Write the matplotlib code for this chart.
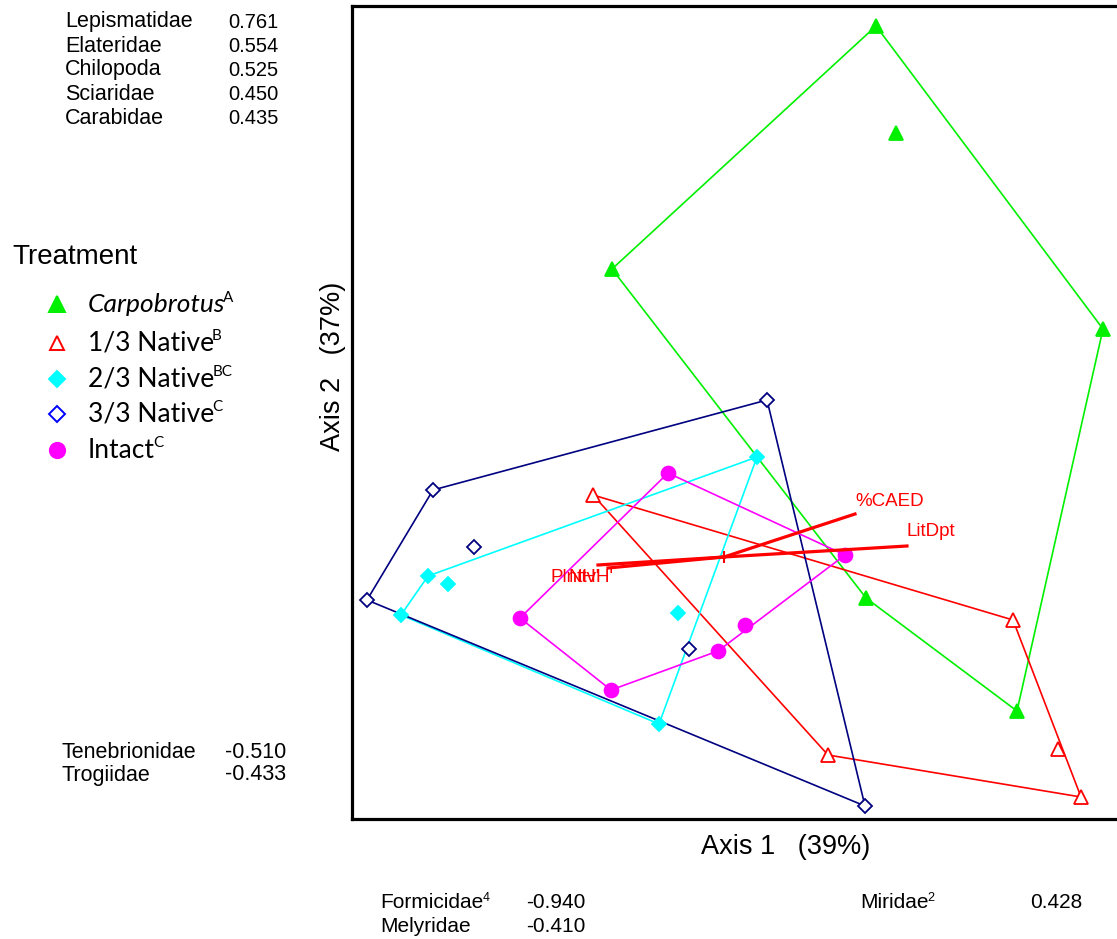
import matplotlib
matplotlib.use("Agg")
import matplotlib.pyplot as plt
import numpy as np

# NMS scores per treatment (axis 1, axis 2)
carpo_x = [0.624, 0.704, -0.432, 1.532, 0.584, 1.188]
carpo_y = [1.896, 1.468, 0.924, 0.684, -0.392, -0.844]
nat13_x = [-0.508, 1.172, 1.352, 1.444, 0.432]
nat13_y = [0.020, -0.480, -0.996, -1.188, -1.020]
nat23_x = [0.148, -1.168, -1.088, -1.276, -0.168, -0.244]
nat23_y = [0.172, -0.304, -0.336, -0.460, -0.452, -0.896]
nat33_x = [0.188, -1.148, -0.984, -1.412, -0.124, 0.580]
nat33_y = [0.400, 0.040, -0.188, -0.400, -0.596, -1.224]
intact_x = [-0.208, 0.500, 0.100, -0.008, -0.436, -0.800]
intact_y = [0.108, -0.220, -0.500, -0.604, -0.760, -0.472]

# environmental vectors (joint plot)
vec_origin = (0.016, -0.228)
vec_names = ["%CAED", "LitDpt", "PlntH'", "NtvH'"]
vec_x = [0.540, 0.748, -0.488, -0.448]
vec_y = [-0.056, -0.184, -0.260, -0.272]

# taxa correlated with the axes
ax2_pos_taxa = ["Lepismatidae", "Elateridae", "Chilopoda", "Sciaridae", "Carabidae"]
ax2_pos_r = ["0.761", "0.554", "0.525", "0.450", "0.435"]
ax2_neg_taxa = ["Tenebrionidae", "Trogiidae"]
ax2_neg_r = ["-0.510", "-0.433"]
ax1_neg_taxa = ["Formicidae", "Melyridae"]
ax1_neg_sup = ["4", ""]
ax1_neg_r = ["-0.940", "-0.410"]
ax1_pos_taxa = ["Miridae"]
ax1_pos_sup = ["2"]
ax1_pos_r = ["0.428"]

W, H = 1117, 939
fig = plt.figure(figsize=(W / 100, H / 100), dpi=100)
ax = fig.add_axes([352 / W, 1 - 819 / H, (1125 - 352) / W, (819 - 6) / H])
ax.set_xlim(-1.472, 1.62)
ax.set_ylim(-1.276, 1.976)
ax.set_xticks([])
ax.set_yticks([])
for s in ["left", "top", "bottom"]:
    ax.spines[s].set_linewidth(2.3)
ax.spines["right"].set_visible(False)


def hull(xs, ys):
    pts = sorted(zip(xs, ys))
    def cross(o, a, b):
        return (a[0] - o[0]) * (b[1] - o[1]) - (a[1] - o[1]) * (b[0] - o[0])
    lower, upper = [], []
    for p in pts:
        while len(lower) >= 2 and cross(lower[-2], lower[-1], p) <= 0:
            lower.pop()
        lower.append(p)
    for p in reversed(pts):
        while len(upper) >= 2 and cross(upper[-2], upper[-1], p) <= 0:
            upper.pop()
        upper.append(p)
    h = lower[:-1] + upper[:-1]
    h.append(h[0])
    return [p[0] for p in h], [p[1] for p in h]


groups = [
    (carpo_x, carpo_y, "#00f000", "^", "#00f000", "#00f000", 10),
    (nat13_x, nat13_y, "#ff0000", "^", "white", "#ff0000", 10),
    (nat23_x, nat23_y, "#00ffff", "D", "#00ffff", "#00ffff", 7),
    (nat33_x, nat33_y, "#000080", "D", "white", "#000080", 7),
    (intact_x, intact_y, "#ff00ff", "o", "#ff00ff", "#ff00ff", 10),
]
for gx, gy, lc, mk, fc, ec, ms in groups:
    hx, hy = hull(gx, gy)
    ax.plot(hx, hy, color=lc, lw=1.2, zorder=2)
for gx, gy, lc, mk, fc, ec, ms in groups:
    ax.plot(gx, gy, ls="none", marker=mk, ms=ms, mfc=fc, mec=ec, mew=1.3, zorder=4)

# joint plot vectors
for name, x1, y1 in zip(vec_names, vec_x, vec_y):
    ax.plot([vec_origin[0], x1], [vec_origin[1], y1], color="red", lw=2.3, zorder=5)
ax.plot(*vec_origin, marker="|", ms=9, mew=1.5, color="red", zorder=5)
lab_off = {"%CAED": (0, 12), "LitDpt": (0, 14), "PlntH'": (-47, -12), "NtvH'": (-39, -10)}
for name, x1, y1 in zip(vec_names, vec_x, vec_y):
    dx, dy = lab_off[name]
    ax.annotate(name, (x1, y1), xytext=(dx * 0.72, dy * 0.72), textcoords="offset points",
                ha="left", va="center", color="red", fontsize=13.5,
                family="Liberation Sans", zorder=6)

# axis titles
fig.text(786 / W, 1 - 847 / H, "Axis 1   (39%)", ha="center", va="center",
         fontsize=19.5, family="Liberation Sans")
fig.text(333 / W, 1 - 366 / H, "Axis 2   (37%)", ha="center", va="center",
         rotation=90, fontsize=19.5, family="Liberation Sans")

# correlated taxa lists
for i, (t, r) in enumerate(zip(ax2_pos_taxa, ax2_pos_r)):
    y = 1 - (22 + 24 * i) / H
    fig.text(65 / W, y, t, va="center", fontsize=15.5, family="Liberation Sans")
    fig.text(228 / W, y, r, va="center", fontsize=14.5, family="Liberation Sans")
for i, (t, r) in enumerate(zip(ax2_neg_taxa, ax2_neg_r)):
    y = 1 - (752 + 23 * i) / H
    fig.text(62 / W, y, t, va="center", fontsize=15.5, family="Liberation Sans")
    fig.text(225 / W, y, r, va="center", fontsize=15.5, family="Liberation Sans")


def taxon_rows(names, sups, vals, x0, xv, y0):
    for i, (t, s, r) in enumerate(zip(names, sups, vals)):
        y = 1 - (y0 + 23 * i) / H
        txt = fig.text(x0 / W, y, t, va="center", fontsize=15, family="Liberation Sans")
        if s:
            ax.annotate(s, xy=(1, 1), xycoords=txt, xytext=(-0.5, -3), textcoords="offset points",
                        va="center", fontsize=9, family="Liberation Sans", annotation_clip=False)
        fig.text(xv / W, y, r, va="center", fontsize=15, family="Liberation Sans")


taxon_rows(ax1_neg_taxa, ax1_neg_sup, ax1_neg_r, 380, 526, 903)
taxon_rows(ax1_pos_taxa, ax1_pos_sup, ax1_pos_r, 860, 1030, 903)

# treatment legend
fig.text(12 / W, 1 - 257 / H, "Treatment", va="center", fontsize=20, family="Liberation Sans")
leg_names = ["Carpobrotus", "1/3 Native", "2/3 Native", "3/3 Native", "Intact"]
leg_sup = ["A", "B", "BC", "C", "C"]
leg_y = [304, 343, 379, 414, 450]
leg_style = [("^", "#00f000", "#00f000", 11), ("^", "white", "#ff0000", 10),
             ("D", "#00ffff", "#00ffff", 8), ("D", "white", "#0000ff", 8),
             ("o", "#ff00ff", "#ff00ff", 11)]
for name, sup, yy, (mk, fc, ec, ms) in zip(leg_names, leg_sup, leg_y, leg_style):
    fy = 1 - yy / H
    fig.add_artist(plt.Line2D([57 / W], [fy], marker=mk, ms=ms, mfc=fc, mec=ec, mew=1.4,
                              ls="none", transform=fig.transFigure))
    txt = fig.text(88 / W, fy, name, va="center", fontsize=19, family="Lato",
                   style="italic" if name == "Carpobrotus" else "normal")
    ax.annotate(sup, xy=(1, 1), xycoords=txt, xytext=(-1.5, -4), textcoords="offset points",
                va="center", fontsize=11, family="Lato", annotation_clip=False)

fig.savefig("out.png", dpi=100)
